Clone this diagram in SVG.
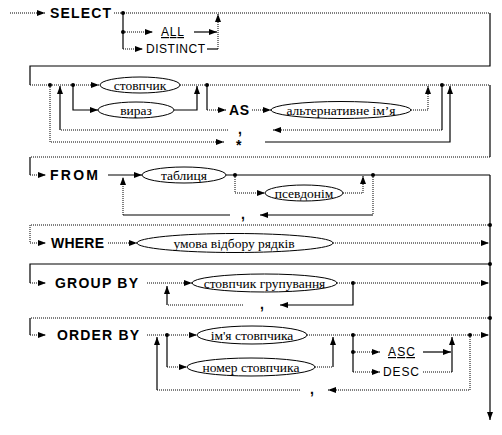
<svg xmlns="http://www.w3.org/2000/svg" width="502" height="435" viewBox="0 0 502 435">
<style>
.s{fill:none;stroke:#000;stroke-width:1.2}
.d{fill:none;stroke:#000;stroke-width:1;stroke-dasharray:1 1}
.e{fill:#fff;stroke:#000;stroke-width:1}
.kw{font-family:"Liberation Sans",Arial,sans-serif;font-weight:bold;font-size:14px;fill:#000}
.op{font-family:"Liberation Sans",Arial,sans-serif;font-size:12px;fill:#000}
.el{font-family:"Liberation Serif","Times New Roman",serif;font-size:13.5px;fill:#000;text-anchor:middle}
.pu{font-family:"Liberation Sans",Arial,sans-serif;font-weight:bold;font-size:14px;fill:#000}
</style>
<defs>
<marker id="ar" viewBox="0 0 8 6" refX="8" refY="3" markerWidth="8" markerHeight="6" markerUnits="userSpaceOnUse" orient="auto"><path d="M0,0L8,3L0,6z" fill="#000"/></marker>
</defs>
<rect width="502" height="435" fill="#fff"/>
<g id="connectors">
<path class="d" d="M10,13H45" marker-end="url(#ar)"/>
<path class="d" d="M114,13H490"/>
<path class="s" d="M490,13V66H30V85"/>
<path class="s" d="M123,13V49"/>
<path class="d" d="M123,32H153" marker-end="url(#ar)"/>
<path class="s" d="M194,32H217" marker-end="url(#ar)"/>
<path class="d" d="M123,49H143" marker-end="url(#ar)"/>
<path class="s" d="M207,49H218"/>
<path class="d" d="M218,49V14" marker-end="url(#ar)"/>
<path class="d" d="M30,85H99" marker-end="url(#ar)"/>
<path class="d" d="M180,85H490"/>
<path class="s" d="M73,85V110H98" marker-end="url(#ar)"/>
<path class="s" d="M174,110H197V86" marker-end="url(#ar)"/>
<path class="s" d="M207,85V110"/>
<path class="d" d="M207,110H226" marker-end="url(#ar)"/>
<path class="d" d="M252,110H271" marker-end="url(#ar)"/>
<path class="d" d="M411,110H428V86" marker-end="url(#ar)"/>
<path class="s" d="M442,85V130"/>
<path class="d" d="M442,130H273" marker-end="url(#ar)"/>
<path class="d" d="M228,130H60"/>
<path class="s" d="M60,130V86" marker-end="url(#ar)"/>
<path class="d" d="M50,85V142H224" marker-end="url(#ar)"/>
<path class="s" d="M265,142H450V86" marker-end="url(#ar)"/>
<path class="s" d="M490,85V157"/>
<path class="d" d="M490,157H30"/>
<path class="s" d="M30,157V175"/>
<path class="d" d="M30,175H46" marker-end="url(#ar)"/>
<path class="s" d="M108,175H142" marker-end="url(#ar)"/>
<path class="s" d="M226,175H490"/>
<path class="d" d="M235,175V193H265" marker-end="url(#ar)"/>
<path class="d" d="M343,193H363V176" marker-end="url(#ar)"/>
<path class="d" d="M373,175V215"/>
<path class="s" d="M373,215H260" marker-end="url(#ar)"/>
<path class="s" d="M230,215H123"/>
<path class="d" d="M123,215V177" marker-end="url(#ar)"/>
<path class="s" d="M490,175V225"/>
<path class="d" d="M490,225H30V243"/>
<path class="d" d="M30,243H46" marker-end="url(#ar)"/>
<path class="d" d="M108,243H137" marker-end="url(#ar)"/>
<path class="d" d="M333,243H489" marker-end="url(#ar)"/>
<path class="s" d="M490,225V264"/>
<path class="s" d="M490,264H30V283"/>
<path class="d" d="M30,283H46" marker-end="url(#ar)"/>
<path class="d" d="M147,283H192" marker-end="url(#ar)"/>
<path class="d" d="M337,283H489" marker-end="url(#ar)"/>
<path class="s" d="M353,283V305H280" marker-end="url(#ar)"/>
<path class="d" d="M243,305H167"/>
<path class="s" d="M167,305V286" marker-end="url(#ar)"/>
<path class="s" d="M490,264V318"/>
<path class="d" d="M490,318H30"/>
<path class="s" d="M30,318V335"/>
<path class="d" d="M30,335H46" marker-end="url(#ar)"/>
<path class="d" d="M147,335H197" marker-end="url(#ar)"/>
<path class="s" d="M167,335V367"/>
<path class="d" d="M167,367H187" marker-end="url(#ar)"/>
<path class="d" d="M307,335H489" marker-end="url(#ar)"/>
<path class="d" d="M315,367H333"/>
<path class="s" d="M333,367V337" marker-end="url(#ar)"/>
<path class="s" d="M353,335V372"/>
<path class="d" d="M353,352H380" marker-end="url(#ar)"/>
<path class="s" d="M423,352H451" marker-end="url(#ar)"/>
<path class="d" d="M353,372H380" marker-end="url(#ar)"/>
<path class="d" d="M423,372H452"/>
<path class="s" d="M452,372V337" marker-end="url(#ar)"/>
<path class="d" d="M470,335V390H328" marker-end="url(#ar)"/>
<path class="d" d="M300,390H157"/>
<path class="s" d="M157,390V337" marker-end="url(#ar)"/>
<path class="s" d="M490,318V420" marker-end="url(#ar)"/>
<g fill="#000">
<circle cx="123" cy="13" r="2"/><circle cx="123" cy="32" r="2"/>
<circle cx="50" cy="85" r="2"/><circle cx="73" cy="85" r="2"/><circle cx="207" cy="85" r="2"/><circle cx="442" cy="85" r="2"/>
<circle cx="235" cy="175" r="2"/><circle cx="373" cy="175" r="2"/><circle cx="490" cy="225" r="2"/>
<circle cx="490" cy="264" r="2"/><circle cx="353" cy="283" r="2"/><circle cx="490" cy="318" r="2"/>
<circle cx="167" cy="335" r="2"/><circle cx="353" cy="335" r="2"/><circle cx="353" cy="352" r="2"/><circle cx="470" cy="335" r="2"/>
</g>
</g>
<g id="kw-select"><text class="kw" x="50" y="18" textLength="61" lengthAdjust="spacing">SELECT</text></g>
<g id="opt-all"><text class="op" x="161" y="36" textLength="23" lengthAdjust="spacing" text-decoration="underline">ALL</text></g>
<g id="opt-distinct"><text class="op" x="146" y="53" textLength="59" lengthAdjust="spacing">DISTINCT</text></g>
<g id="n-stovpchyk"><ellipse class="e" cx="140" cy="85" rx="40" ry="8"/><text class="el" x="140" y="89.5">стовпчик</text></g>
<g id="n-vyraz"><ellipse class="e" cx="136" cy="110" rx="38" ry="8"/><text class="el" x="136" y="114.5">вираз</text></g>
<g id="kw-as"><text class="kw" x="229" y="115" textLength="20" lengthAdjust="spacing">AS</text></g>
<g id="n-alias"><ellipse class="e" cx="341" cy="110" rx="70" ry="8.5"/><text class="el" x="341" y="114.5">альтернативне ім’я</text></g>
<g id="p-comma1"><text class="pu" x="238" y="134">,</text></g>
<g id="p-star"><text class="pu" x="236" y="150">*</text></g>
<g id="kw-from"><text class="kw" x="50" y="180" textLength="48" lengthAdjust="spacing">FROM</text></g>
<g id="n-tablytsia"><ellipse class="e" cx="184" cy="175" rx="42" ry="8"/><text class="el" x="184" y="179.5">таблиця</text></g>
<g id="n-psevdonim"><ellipse class="e" cx="304" cy="193" rx="39" ry="8"/><text class="el" x="304" y="197.5">псевдонім</text></g>
<g id="p-comma2"><text class="pu" x="241" y="219">,</text></g>
<g id="kw-where"><text class="kw" x="51" y="248" textLength="53" lengthAdjust="spacing">WHERE</text></g>
<g id="n-umova"><ellipse class="e" cx="235" cy="243" rx="98" ry="9.5"/><text class="el" x="234" y="247.5">умова відбору рядків</text></g>
<g id="kw-groupby"><text class="kw" x="55" y="288" textLength="83" lengthAdjust="spacing">GROUP  BY</text></g>
<g id="n-grup"><ellipse class="e" cx="264.5" cy="283" rx="72.5" ry="9"/><text class="el" x="264.5" y="287.5">стовпчик групування</text></g>
<g id="p-comma3"><text class="pu" x="260" y="309">,</text></g>
<g id="kw-orderby"><text class="kw" x="57" y="340" textLength="82" lengthAdjust="spacing">ORDER  BY</text></g>
<g id="n-imia"><ellipse class="e" cx="252" cy="335" rx="55" ry="9"/><text class="el" x="252" y="339.5">ім'я стовпчика</text></g>
<g id="n-nomer"><ellipse class="e" cx="251" cy="367" rx="64" ry="9"/><text class="el" x="251" y="371.5">номер стовпчика</text></g>
<g id="opt-asc"><text class="op" x="388" y="356" textLength="27" lengthAdjust="spacing" text-decoration="underline">ASC</text></g>
<g id="opt-desc"><text class="op" x="383" y="376" textLength="36" lengthAdjust="spacing">DESC</text></g>
<g id="p-comma4"><text class="pu" x="310" y="394">,</text></g>
</svg>
